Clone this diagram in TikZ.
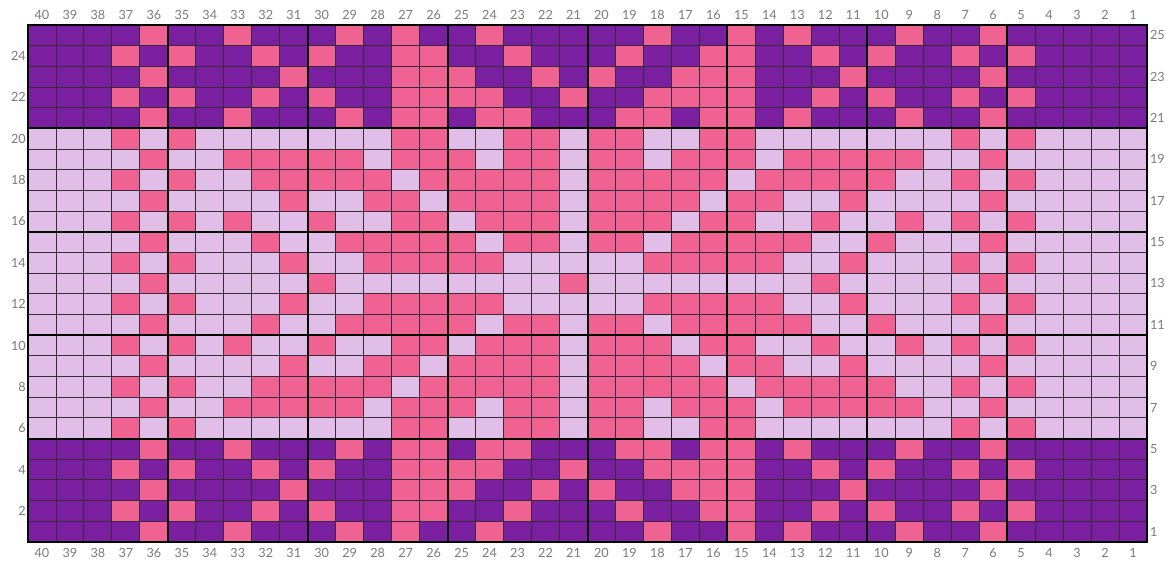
\documentclass[tikz,border=0pt]{standalone}
\usepackage{fontspec}
\setmainfont{Lato}
\usepackage{tikz}
\definecolor{yarnpurple}{HTML}{791FA0}
\definecolor{yarnpink}{HTML}{F06292}
\definecolor{yarnlilac}{HTML}{E1BEE7}
\definecolor{gridink}{HTML}{3A2A3C}
\definecolor{numgray}{HTML}{7A7A7A}
\tikzset{
  base/.style={fill=yarnpurple},
  band/.style={fill=yarnlilac},
  stitch/.style={fill=yarnpink},
  thinrule/.style={draw=gridink,line width=0.7pt},
  thickrule/.style={draw=black,line width=1.5pt,line cap=rect},
  colnum/.style={font=\fontsize{9.5}{11}\selectfont,text=numgray,inner sep=0pt},
  rownum/.style={font=\fontsize{9.5}{11}\selectfont,text=numgray,inner sep=0pt},
}

\begin{document}
\begin{tikzpicture}[x=20.985pt,y=15.51pt]
  \useasboundingbox (-1.0007,-1.0155) rectangle (40.929,26.209);
  \fill[base] (0,0) rectangle (40,5);
  \fill[band] (0,5) rectangle (40,20);
  \fill[base] (0,20) rectangle (40,25);
  \foreach \r/\pk in {
    25/{36,33,29,27,24,18,15,13,9,6},
    24/{37,35,32,30,27,26,23,19,16,15,12,10,7,5},
    23/{36,31,27,26,25,22,20,17,16,15,11,6},
    22/{37,35,32,30,27,26,25,24,21,18,17,16,15,12,10,7,5},
    21/{36,33,29,27,26,24,23,19,18,16,15,13,9,6},
    20/{37,35,27,26,23,22,20,19,16,15,7,5},
    19/{36,33,32,31,30,29,27,26,25,23,22,20,19,17,16,15,13,12,11,10,9,6},
    18/{37,35,32,31,30,29,28,26,25,24,23,22,20,19,18,17,16,14,13,12,11,10,7,5},
    17/{36,31,28,27,25,24,23,22,20,19,18,17,15,14,11,6},
    16/{37,35,33,30,27,26,24,23,22,20,19,18,16,15,12,9,7,5},
    15/{36,32,29,28,27,26,25,23,22,20,19,17,16,15,14,13,10,6},
    14/{37,35,31,28,27,26,25,24,18,17,16,15,14,11,7,5},
    13/{36,30,21,12,6}}
  {
    \foreach \c in \pk {
      \fill[stitch] (40-\c,\r-1) rectangle ++(1,1);
      \fill[stitch] (40-\c,25-\r) rectangle ++(1,1);
    }
  }
  \foreach \i in {0,...,40} \draw[thinrule] (\i,0) -- (\i,25);
  \foreach \j in {0,...,25} \draw[thinrule] (0,\j) -- (40,\j);
  \foreach \i in {0,5,...,40} \draw[thickrule] (\i,0) -- (\i,25);
  \foreach \j in {0,5,...,25} \draw[thickrule] (0,\j) -- (40,\j);
  \foreach \c in {1,...,40} {
    \node[colnum] (top\c) at (40.5-\c,25.5) {\c};
    \node[colnum] (bot\c) at (40.5-\c,-0.53) {\c};
  }
  \foreach \r in {2,4,...,24}
    \node[rownum,anchor=east] (left\r) at (-0.07,\r-0.5) {\r};
  \foreach \r in {1,3,...,25}
    \node[rownum,anchor=west] (right\r) at (40.1,\r-0.5) {\r};
\end{tikzpicture}
\end{document}
